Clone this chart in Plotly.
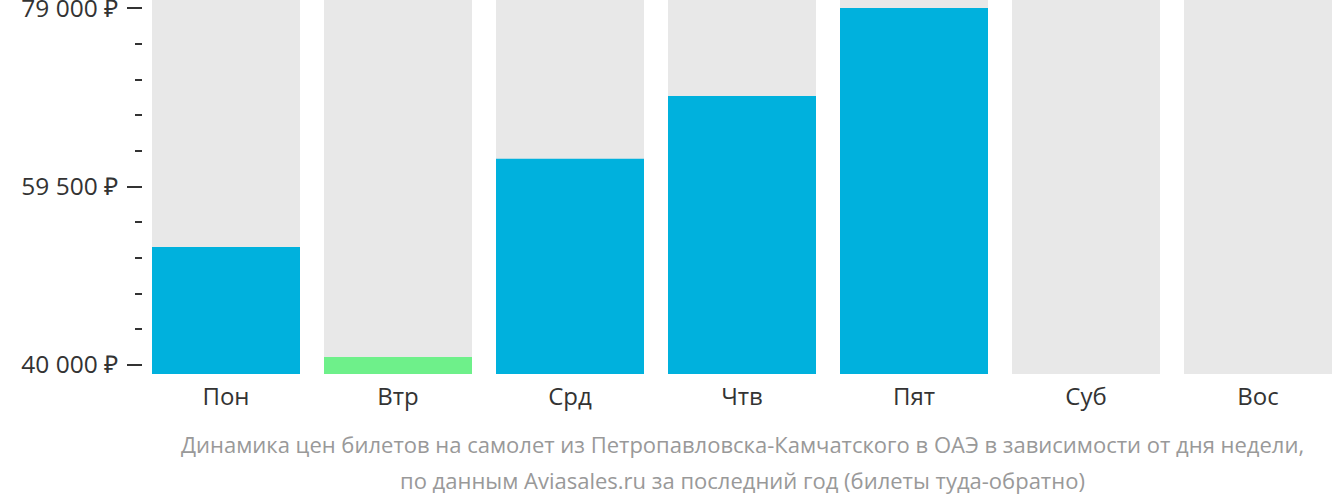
import plotly.graph_objects as go

days = ["Пон", "Втр", "Срд", "Чтв", "Пят", "Суб", "Вос"]
prices = [52900, 40850, 62550, 69400, 79020, None, None]
bar_colors = ["#00b1dd", "#6ef08a", "#00b1dd", "#00b1dd", "#00b1dd", "#00b1dd", "#00b1dd"]
bg_top = 79900
y_bottom = 39000
y_tickvals = [40000, 59500, 79000]
y_ticktext = ["40 000 ₽", "59 500 ₽", "79 000 ₽"]
caption_lines = [
    "Динамика цен билетов на самолет из Петропавловска-Камчатского в ОАЭ в зависимости от дня недели,",
    "по данным Aviasales.ru за последний год (билеты туда-обратно)",
]

fig = go.Figure()
fig.add_trace(go.Bar(x=days, y=[bg_top] * len(days), marker_color="#e8e8e8",
                     marker_line_width=0, hoverinfo="skip", showlegend=False))
fig.add_trace(go.Bar(x=days, y=prices, marker_color=bar_colors,
                     marker_line_width=0, showlegend=False))

plot_left = 143
cat_px = 172

fig.update_layout(
    width=1332, height=502,
    margin=dict(l=plot_left, r=0, t=0, b=128),
    barmode="overlay", bargap=24 / cat_px,
    plot_bgcolor="white", paper_bgcolor="white",
    font=dict(family="Open Sans", size=24, color="#333333"),
    xaxis=dict(range=[(plot_left - 226) / cat_px, 6 + 74 / cat_px], showgrid=False, zeroline=False,
               showline=False, ticks="", ticklabelstandoff=6, automargin=False,
               tickfont=dict(size=24, color="#333333")),
    yaxis=dict(range=[y_bottom, bg_top], showgrid=False, zeroline=False, showline=False,
               tickmode="array", tickvals=y_tickvals, ticktext=y_ticktext,
               ticks="outside", ticklen=15, tickwidth=1.5, tickcolor="#333333",
               ticklabelstandoff=4, ticklabeloverflow="allow", automargin=False,
               tickfont=dict(size=24.5, color="#333333"),
               minor=dict(ticks="outside", ticklen=7, tickwidth=2, tickcolor="#333333",
                          tickmode="linear", tick0=40000, dtick=3900)),
)

for line, ypix in zip(caption_lines, [444, 480]):
    fig.add_annotation(text=line, xref="paper", yref="paper",
                       x=(742 - plot_left) / (1332 - plot_left), y=0,
                       yshift=-(ypix - 374), xanchor="center", yanchor="middle",
                       showarrow=False, font=dict(size=22, color="#999999", family="Open Sans"))

fig.write_html("out.html")
